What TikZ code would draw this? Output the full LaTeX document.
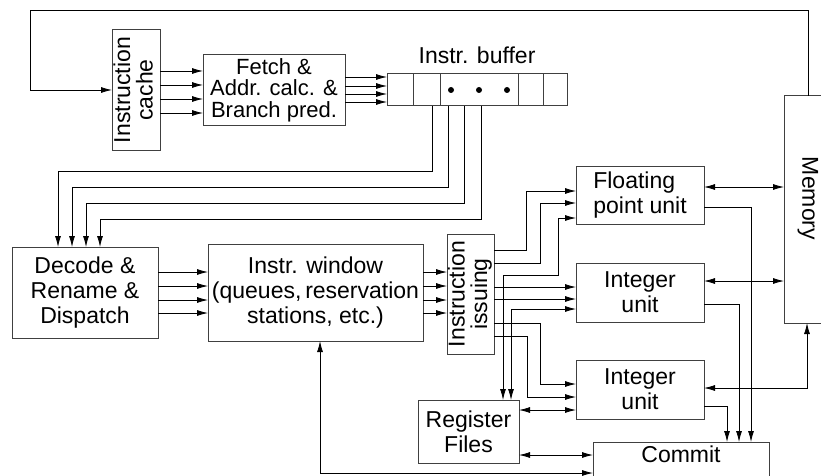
\documentclass[tikz,border=0pt]{standalone}
\usepackage{fontspec}
\setmainfont{Liberation Sans}
\usepackage{graphicx}
\usetikzlibrary{arrows.meta,positioning}

\begin{document}
\begin{tikzpicture}[>={Latex[length=11pt,width=6pt]},x=1pt,y=-1pt,line width=0.8pt,
    box/.style={draw=black!75,line width=1pt,inner sep=0pt,outer sep=0pt,align=center,
      font=\fontsize{23}{25}\selectfont},
    turned/.style={box,font=\fontsize{23}{20}\selectfont}]
  \useasboundingbox (0,0) rectangle (821,476);

  \node[turned,minimum width=48pt,minimum height=120pt] (IC) at (136,90)
    {\rotatebox{90}{\begin{tabular}{@{}c@{}}Instruction\\cache\end{tabular}}};
  \node[box,font=\fontsize{22}{21.5}\selectfont,minimum width=142pt,minimum height=70pt] (FE) at (274,90)
    {Fetch \&\\Addr. calc. \&\\Branch pred.};
  \node[box,minimum width=180pt,minimum height=32pt] (BUF) at (477,90) {};
  \node[font=\fontsize{23}{25}\selectfont] (BL) at (477,55) {Instr. buffer};
  \node[box,minimum width=146pt,minimum height=91pt] (DEC) at (85,292.5)
    {Decode \&\\Rename \&\\Dispatch};
  \node[box,minimum width=215pt,minimum height=97pt] (WIN) at (315.5,292.5)
    {Instr. window\\(queues,\,reservation\\stations, etc.)};
  \node[turned,minimum width=47pt,minimum height=120pt] (ISS) at (470.5,294)
    {\rotatebox{90}{\begin{tabular}{@{}c@{}}Instruction\\issuing\end{tabular}}};
  \node[box,align=left,minimum width=128pt,minimum height=58pt] (FP) at (640,195)
    {Floating\\point unit};
  \node[box,minimum width=128pt,minimum height=59pt] (INT1) at (640,292.5) {Integer\\unit};
  \node[box,minimum width=128pt,minimum height=59pt] (INT2) at (640,389.5) {Integer\\unit};
  \node[box,minimum width=101pt,minimum height=63pt] (REG) at (468.5,431.5) {Register\\Files};
  \node[box,anchor=north,minimum width=176pt,text height=20pt,text depth=30pt] (COM) at (681,442) {Commit};
  \node[box,minimum width=48pt,minimum height=227pt] (MEM) at (808,209.5)
    {\rotatebox{-90}{Memory\hspace*{22pt}}};

  % buffer cells
  \foreach \x in {413,440,518,543}
    \draw[black!75,line width=1pt] (BUF.north -| \x,0) -- (BUF.south -| \x,0);
  \foreach \x in {451,479,507}
    \fill (\x,90) circle (3pt);

  \coordinate (loop) at (30,10);
  \draw[->] (MEM.north) |- (loop) |- (IC.west);

  \foreach \y in {71,85,99,113}
    \draw[->] (IC.east |- 0,\y) -- (FE.west |- 0,\y);
  \foreach \y in {77,86,94,102}
    \draw[->] (FE.east |- 0,\y) -- (BUF.west |- 0,\y);
  \foreach \bx/\ty/\dx in {432/171/58,448/187/72,464/203/86,481/219/100}
    \draw[->] (BUF.south -| \bx,0) |- (\dx,\ty) -- (DEC.north -| \dx,0);
  \foreach \y in {272,286,300,313} {
    \draw[->] (DEC.east |- 0,\y) -- (WIN.west |- 0,\y);
    \draw[->] (WIN.east |- 0,\y) -- (ISS.west |- 0,\y);
  }

  \foreach \sy/\mx/\ty in {250/526/191,263/540/203}
    \draw[->] (ISS.east |- 0,\sy) -- (\mx,\sy) |- (FP.west |- 0,\ty);
  \foreach \y in {287,299}
    \draw[->] (ISS.east |- 0,\y) -- (INT1.west |- 0,\y);
  \foreach \sy/\mx/\ty in {323/540/384,336/527/397}
    \draw[->] (ISS.east |- 0,\sy) -- (\mx,\sy) |- (INT2.west |- 0,\ty);

  \draw[<->] (REG.north -| 503,0) |- (558,275) |- (FP.west |- 0,218);
  \draw[<->] (REG.north -| 511,0) |- (INT1.west |- 0,309);

  \path[<->]
    (REG.east |- 0,410) edge (INT2.west |- 0,410)
    (REG.east |- 0,455) edge (COM.west |- 0,455)
    (FP.east |- 0,187)  edge (MEM.west |- 0,187)
    (INT1.east |- 0,281) edge (MEM.west |- 0,281);
  \draw[<->] (WIN.south -| 320,0) |- (COM.west |- 0,473);
  \draw[<->] (INT2.east |- 0,388) -| (MEM.south -| 807,0);

  \draw[->] (FP.east |- 0,207) -| (COM.north -| 751,0);
  \draw[->] (INT1.east |- 0,304) -| (COM.north -| 739,0);
  \draw[->] (INT2.east |- 0,406) -| (COM.north -| 727,0);
\end{tikzpicture}
\end{document}
